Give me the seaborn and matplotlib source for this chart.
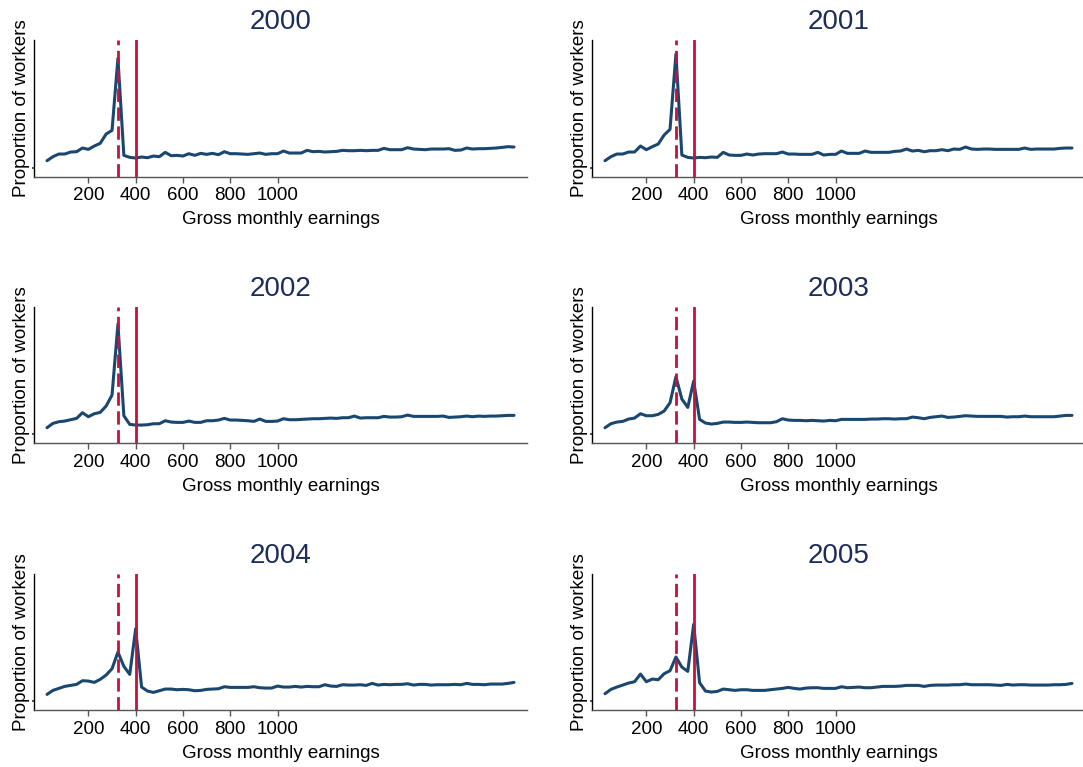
import matplotlib
matplotlib.use("Agg")
import matplotlib.pyplot as plt
import seaborn as sns
import pandas as pd

# ---- data (proportion of workers, % per 25-unit earnings bin) ----
earnings_bins = list(range(25, 2001, 25))
years = ["2000", "2001", "2002", "2003", "2004", "2005"]

share_2000 = [0.21, 0.33, 0.41, 0.41, 0.47, 0.48, 0.59, 0.55, 0.65, 0.73,
              1.01, 1.12, 3.28, 0.37, 0.31, 0.29, 0.32, 0.30, 0.35, 0.33,
              0.46, 0.36, 0.37, 0.35, 0.42, 0.37, 0.43, 0.40, 0.43, 0.39,
              0.48, 0.42, 0.42, 0.41, 0.40, 0.42, 0.44, 0.40, 0.42, 0.42,
              0.50, 0.44, 0.44, 0.44, 0.52, 0.48, 0.49, 0.47, 0.48, 0.49,
              0.52, 0.51, 0.51, 0.52, 0.51, 0.52, 0.52, 0.58, 0.54, 0.54,
              0.54, 0.60, 0.56, 0.55, 0.54, 0.56, 0.56, 0.56, 0.57, 0.52,
              0.53, 0.59, 0.56, 0.57, 0.57, 0.58, 0.59, 0.61, 0.63, 0.62]
share_2001 = [0.21, 0.33, 0.41, 0.41, 0.47, 0.47, 0.65, 0.54, 0.63, 0.71,
              0.98, 1.15, 3.41, 0.38, 0.31, 0.29, 0.31, 0.30, 0.32, 0.31,
              0.46, 0.38, 0.37, 0.37, 0.41, 0.38, 0.41, 0.42, 0.42, 0.42,
              0.47, 0.41, 0.41, 0.40, 0.40, 0.40, 0.46, 0.38, 0.40, 0.40,
              0.50, 0.43, 0.43, 0.43, 0.50, 0.46, 0.46, 0.46, 0.46, 0.49,
              0.50, 0.56, 0.50, 0.52, 0.48, 0.51, 0.51, 0.54, 0.51, 0.56,
              0.55, 0.62, 0.56, 0.55, 0.56, 0.56, 0.55, 0.55, 0.55, 0.55,
              0.55, 0.59, 0.55, 0.56, 0.56, 0.56, 0.56, 0.58, 0.59, 0.59]
share_2002 = [0.20, 0.33, 0.38, 0.40, 0.44, 0.48, 0.65, 0.53, 0.62, 0.66,
              0.85, 1.18, 3.31, 0.56, 0.30, 0.28, 0.28, 0.29, 0.32, 0.32,
              0.41, 0.37, 0.36, 0.36, 0.40, 0.36, 0.36, 0.41, 0.41, 0.43,
              0.48, 0.43, 0.43, 0.42, 0.41, 0.39, 0.46, 0.39, 0.39, 0.40,
              0.47, 0.44, 0.44, 0.45, 0.46, 0.47, 0.47, 0.48, 0.49, 0.48,
              0.50, 0.50, 0.55, 0.49, 0.50, 0.50, 0.50, 0.54, 0.52, 0.52,
              0.53, 0.58, 0.54, 0.54, 0.54, 0.54, 0.54, 0.55, 0.51, 0.52,
              0.53, 0.55, 0.53, 0.55, 0.54, 0.55, 0.55, 0.56, 0.57, 0.57]
share_2003 = [0.20, 0.32, 0.37, 0.39, 0.46, 0.49, 0.62, 0.56, 0.56, 0.60,
              0.70, 0.95, 1.73, 1.06, 0.81, 1.60, 0.45, 0.34, 0.31, 0.33,
              0.37, 0.37, 0.36, 0.36, 0.37, 0.36, 0.35, 0.35, 0.35, 0.38,
              0.47, 0.43, 0.42, 0.42, 0.41, 0.42, 0.41, 0.40, 0.42, 0.41,
              0.45, 0.45, 0.45, 0.45, 0.45, 0.46, 0.46, 0.47, 0.47, 0.46,
              0.47, 0.47, 0.52, 0.50, 0.47, 0.51, 0.53, 0.55, 0.51, 0.52,
              0.54, 0.56, 0.55, 0.54, 0.54, 0.54, 0.54, 0.54, 0.52, 0.53,
              0.53, 0.55, 0.53, 0.53, 0.53, 0.53, 0.53, 0.55, 0.57, 0.57]
share_2004 = [0.21, 0.33, 0.39, 0.45, 0.48, 0.51, 0.62, 0.61, 0.57, 0.66,
              0.79, 0.98, 1.48, 1.05, 0.81, 2.18, 0.43, 0.31, 0.27, 0.32,
              0.37, 0.37, 0.35, 0.36, 0.35, 0.32, 0.33, 0.36, 0.37, 0.38,
              0.44, 0.42, 0.42, 0.42, 0.42, 0.44, 0.41, 0.40, 0.40, 0.46,
              0.43, 0.43, 0.45, 0.43, 0.45, 0.44, 0.44, 0.50, 0.46, 0.45,
              0.50, 0.49, 0.49, 0.50, 0.48, 0.54, 0.49, 0.51, 0.50, 0.51,
              0.51, 0.53, 0.49, 0.51, 0.51, 0.49, 0.50, 0.50, 0.50, 0.51,
              0.50, 0.54, 0.51, 0.51, 0.50, 0.52, 0.52, 0.52, 0.54, 0.57]
share_2005 = [0.23, 0.36, 0.43, 0.49, 0.55, 0.59, 0.82, 0.59, 0.67, 0.65,
              0.83, 0.92, 1.33, 1.03, 0.90, 2.31, 0.56, 0.31, 0.28, 0.30,
              0.37, 0.35, 0.33, 0.35, 0.35, 0.33, 0.33, 0.33, 0.35, 0.37,
              0.39, 0.42, 0.39, 0.37, 0.40, 0.41, 0.41, 0.39, 0.39, 0.39,
              0.44, 0.41, 0.42, 0.43, 0.41, 0.41, 0.43, 0.45, 0.45, 0.45,
              0.46, 0.48, 0.48, 0.48, 0.45, 0.48, 0.49, 0.49, 0.49, 0.50,
              0.50, 0.52, 0.50, 0.50, 0.50, 0.50, 0.49, 0.48, 0.51, 0.49,
              0.50, 0.50, 0.49, 0.49, 0.49, 0.49, 0.50, 0.50, 0.51, 0.54]

series = [share_2000, share_2001, share_2002, share_2003, share_2004, share_2005]
old_threshold = 325     # dashed line
new_threshold = 400     # solid line
xtick_values = [200, 400, 600, 800, 1000]
xtick_labels = ["200", "400", "600", "800", "1000"]

df = pd.concat(
    [pd.DataFrame({"year": y, "earnings": earnings_bins, "share": s})
     for y, s in zip(years, series)],
    ignore_index=True,
)

# ---- style ----
sns.set_style("white")
plt.rcParams["font.family"] = ["Liberation Sans", "DejaVu Sans"]
plt.rcParams["text.color"] = "black"
plt.rcParams["axes.labelcolor"] = "black"
plt.rcParams["xtick.color"] = "black"
plt.rcParams["ytick.color"] = "black"

W, H = 1083, 767
fig = plt.figure(figsize=(W / 100, H / 100), dpi=100)

line_col = "#1a476f"
red_col = "#c8103a"
title_col = "#1c2d5a"

lefts = [34, 592]
tops = [40, 306.7, 573.7]
ax_w, ax_h = 493, 136.7

for k, year in enumerate(years):
    r, c = divmod(k, 2)
    l = lefts[c] / W
    b = 1 - (tops[r] + ax_h) / H
    ax = fig.add_axes([l, b, ax_w / W, ax_h / H])
    sub = df[df["year"] == year]
    sns.lineplot(data=sub, x="earnings", y="share", ax=ax, color=line_col,
                 linewidth=2.2, zorder=2)
    ax.axvline(old_threshold, color=red_col, linewidth=2.0,
               linestyle=(0, (4.8, 2.0)), zorder=3)
    ax.axvline(new_threshold, color=red_col, linewidth=2.0, zorder=3)

    ax.set_xlim(-30, 2055)
    ax.set_ylim(-0.27, 3.83)
    ax.set_xticks(xtick_values)
    ax.set_xticklabels(xtick_labels, fontsize=13.5)
    ax.set_yticks([0])
    ax.set_yticklabels([])
    ax.tick_params(axis="x", direction="out", length=4, width=1,
                   color="#555555", labelcolor="black", pad=3.5, bottom=True)
    ax.tick_params(axis="y", direction="out", length=1.5, width=1.2,
                   color="#333333", left=True)
    for side in ["top", "right"]:
        ax.spines[side].set_visible(False)
    ax.spines["left"].set_color("black")
    ax.spines["left"].set_linewidth(1.0)
    ax.spines["bottom"].set_color("#555555")
    ax.spines["bottom"].set_linewidth(1.0)
    ax.set_xlabel("Gross monthly earnings", fontsize=13.5, labelpad=5,
                  color="black")
    ax.set_ylabel("Proportion of workers", fontsize=13.5, labelpad=-2,
                  color="black")
    ax.set_title(year, fontsize=20, color=title_col, pad=8)

fig.savefig("out.png", dpi=100)
